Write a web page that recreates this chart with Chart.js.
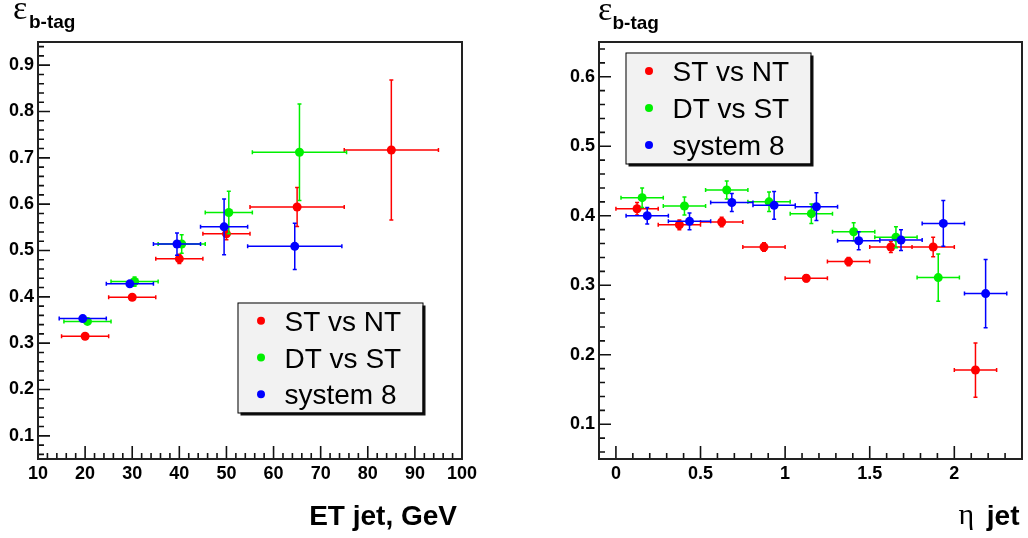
<!DOCTYPE html>
<html>
<head>
<meta charset="utf-8">
<script src="https://cdn.jsdelivr.net/npm/chart.js@4.4.1/dist/chart.umd.min.js"></script>
<style>
  html, body { margin: 0; padding: 0; background: #fff; }
  #wrap { position: relative; width: 1028px; height: 538px; }
  canvas { position: absolute; top: 0; }
  #etChart { left: 0; }
  #etaChart { left: 514px; }
</style>
</head>
<body>
<div id="wrap">
  <canvas id="etChart" width="514" height="538"></canvas>
  <canvas id="etaChart" width="514" height="538"></canvas>
</div>
<script>
const seriesNames = ['ST vs NT', 'DT vs ST', 'system 8'];
const seriesColors = ['#ff0000', '#00f000', '#0000ff'];

// efficiency vs ET jet (GeV)
const etStX = [20, 30, 40, 50, 65, 85];
const etStY = [0.315, 0.399, 0.482, 0.536, 0.594, 0.717];
const etStXErr = [5, 5, 5, 5, 10, 10];
const etStYErr = [0.005, 0.005, 0.01, 0.013, 0.042, 0.151];

const etDtX = [20.5, 30.5, 40.5, 50.5, 65.5];
const etDtY = [0.347, 0.433, 0.514, 0.582, 0.712];
const etDtXErr = [5, 5, 5, 5, 10];
const etDtYErr = [0.006, 0.01, 0.02, 0.046, 0.104];

const etS8X = [19.5, 29.5, 39.5, 49.5, 64.5];
const etS8Y = [0.353, 0.428, 0.514, 0.551, 0.509];
const etS8XErr = [5, 5, 5, 5, 10];
const etS8YErr = [0.005, 0.006, 0.024, 0.06, 0.05];

// efficiency vs eta jet
const etaStX = [0.125, 0.375, 0.625, 0.875, 1.125, 1.375, 1.625, 1.875, 2.125];
const etaStY = [0.410, 0.387, 0.391, 0.355, 0.310, 0.334, 0.355, 0.355, 0.178];
const etaStYErr = [0.009, 0.007, 0.007, 0.006, 0.005, 0.006, 0.008, 0.014, 0.039];

const etaDtX = [0.155, 0.405, 0.655, 0.905, 1.155, 1.405, 1.655, 1.905];
const etaDtY = [0.426, 0.414, 0.437, 0.420, 0.403, 0.377, 0.369, 0.311];
const etaDtYErr = [0.014, 0.013, 0.013, 0.014, 0.014, 0.013, 0.015, 0.034];

const etaS8X = [0.185, 0.435, 0.685, 0.935, 1.185, 1.435, 1.685, 1.935, 2.185];
const etaS8Y = [0.400, 0.392, 0.419, 0.415, 0.413, 0.364, 0.365, 0.389, 0.288];
const etaS8YErr = [0.012, 0.012, 0.013, 0.02, 0.02, 0.013, 0.015, 0.033, 0.049];

const etaHalfBin = 0.125;

const etTicks = [10, 20, 30, 40, 50, 60, 70, 80, 90, 100];
const etEffTicks = [0.1, 0.2, 0.3, 0.4, 0.5, 0.6, 0.7, 0.8, 0.9];
const etaTicks = [0, 0.5, 1, 1.5, 2];
const etaEffTicks = [0.1, 0.2, 0.3, 0.4, 0.5, 0.6];

const SANS = '"Liberation Sans", Arial, Helvetica, sans-serif';
const SERIF = '"Liberation Serif", "Times New Roman", serif';

function makeSet(i, xs, ys, xe, ye) {
  return {
    label: seriesNames[i],
    data: xs.map((x, k) => ({ x: x, y: ys[k] })),
    xErr: xe,
    yErr: ye,
    backgroundColor: seriesColors[i],
    borderWidth: 0,
    pointRadius: 4.5,
    order: 3 - i
  };
}

const errorBars = {
  id: 'errorBars',
  beforeDatasetDraw(chart, args) {
    const ds = chart.data.datasets[args.index];
    const xs = chart.scales.x, ys = chart.scales.y;
    const ctx = chart.ctx;
    ctx.save();
    ctx.strokeStyle = ds.backgroundColor;
    ctx.lineWidth = 1.5;
    ctx.beginPath();
    ds.data.forEach((p, k) => {
      const px = xs.getPixelForValue(p.x), py = ys.getPixelForValue(p.y);
      const xl = xs.getPixelForValue(p.x - ds.xErr[k]), xr = xs.getPixelForValue(p.x + ds.xErr[k]);
      const yt = ys.getPixelForValue(p.y + ds.yErr[k]), yb = ys.getPixelForValue(p.y - ds.yErr[k]);
      ctx.moveTo(xl, py); ctx.lineTo(xr, py);
      ctx.moveTo(px, yt); ctx.lineTo(px, yb);
      ctx.moveTo(xl, py - 2); ctx.lineTo(xl, py + 2);
      ctx.moveTo(xr, py - 2); ctx.lineTo(xr, py + 2);
      ctx.moveTo(px - 2, yt); ctx.lineTo(px + 2, yt);
      ctx.moveTo(px - 2, yb); ctx.lineTo(px + 2, yb);
    });
    ctx.stroke();
    ctx.restore();
  }
};

// ROOT-like frame with inward major/minor ticks
function frameTicks(xMinor, yMinor) {
  return {
    id: 'frameTicks',
    afterDraw(chart) {
      const ctx = chart.ctx;
      const a = chart.chartArea;
      const xs = chart.scales.x, ys = chart.scales.y;
      ctx.save();
      ctx.strokeStyle = '#111';
      ctx.lineWidth = 1.6;
      const isMajor = (scale, v, step) => scale.ticks.some(t => Math.abs(t.value - v) < step / 10);
      ctx.beginPath();
      for (let n = Math.ceil(xs.min / xMinor - 1e-6); n * xMinor <= xs.max + 1e-6; n++) {
        const v = n * xMinor;
        const len = isMajor(xs, v, xMinor) ? 13 : 6;
        const p = xs.getPixelForValue(v);
        ctx.moveTo(p, a.bottom);
        ctx.lineTo(p, a.bottom - len);
      }
      for (let n = Math.ceil(ys.min / yMinor - 1e-6); n * yMinor <= ys.max + 1e-6; n++) {
        const v = n * yMinor;
        const len = isMajor(ys, v, yMinor) ? 12 : 6;
        const p = ys.getPixelForValue(v);
        ctx.moveTo(a.left, p);
        ctx.lineTo(a.left + len, p);
      }
      ctx.stroke();
      ctx.lineWidth = 2;
      ctx.strokeStyle = '#222';
      ctx.strokeRect(a.left, a.top, a.right - a.left, a.bottom - a.top);
      ctx.restore();
    }
  };
}

function boxLegend(box) {
  return {
    id: 'boxLegend',
    afterDraw(chart) {
      const ctx = chart.ctx;
      ctx.save();
      ctx.fillStyle = '#111';
      ctx.fillRect(box.x + 3, box.y + 3, box.w, box.h);
      ctx.fillStyle = '#f2f2f2';
      ctx.fillRect(box.x, box.y, box.w, box.h);
      ctx.strokeStyle = '#000';
      ctx.lineWidth = 1;
      ctx.strokeRect(box.x + 0.5, box.y + 0.5, box.w, box.h);
      const sets = chart.data.datasets;
      const rowH = box.h / sets.length;
      ctx.font = '28px ' + SANS;
      sets.forEach((ds, i) => {
        const cy = box.y + rowH * (i + 0.5);
        ctx.fillStyle = ds.backgroundColor;
        ctx.beginPath();
        ctx.arc(box.x + 23.5, cy, 4, 0, Math.PI * 2);
        ctx.fill();
        ctx.fillStyle = '#000';
        ctx.fillText(ds.label, box.x + 47, cy + 10);
      });
      ctx.restore();
    }
  };
}

function axisTexts(parts) {
  return {
    id: 'axisTexts',
    afterDraw(chart) {
      const ctx = chart.ctx;
      ctx.save();
      ctx.fillStyle = '#000';
      parts.forEach(p => {
        ctx.font = p.font;
        ctx.textAlign = p.align || 'left';
        ctx.fillText(p.text, p.x, p.y);
      });
      ctx.restore();
    }
  };
}

function axes(xMin, xMax, xTicks, yMin, yMax, yTicks, yWidth) {
  const tickFont = { family: SANS, size: 18, weight: 'bold' };
  const fmt = v => String(+Number(v).toFixed(2));
  return {
    x: {
      type: 'linear', min: xMin, max: xMax,
      afterBuildTicks: s => { s.ticks = xTicks.map(v => ({ value: v })); },
      afterFit: s => { s.height = 79; },
      grid: { display: false, drawTicks: false },
      border: { display: false },
      ticks: { autoSkip: false, maxRotation: 0, padding: 4, font: tickFont, color: '#000', callback: fmt }
    },
    y: {
      type: 'linear', min: yMin, max: yMax,
      afterBuildTicks: s => { s.ticks = yTicks.map(v => ({ value: v })); },
      afterFit: s => { s.width = yWidth; },
      grid: { display: false, drawTicks: false },
      border: { display: false },
      ticks: { autoSkip: false, padding: 4, font: tickFont, color: '#000', callback: fmt }
    }
  };
}

const common = {
  responsive: false,
  animation: false,
  events: [],
  plugins: { legend: { display: false }, tooltip: { enabled: false } }
};

new Chart(document.getElementById('etChart').getContext('2d'), {
  type: 'scatter',
  data: {
    datasets: [
      makeSet(0, etStX, etStY, etStXErr, etStYErr),
      makeSet(1, etDtX, etDtY, etDtXErr, etDtYErr),
      makeSet(2, etS8X, etS8Y, etS8XErr, etS8YErr)
    ]
  },
  options: Object.assign({}, common, {
    layout: { padding: { top: 42, right: 52, left: 0, bottom: 0 } },
    scales: axes(10, 100, etTicks, 0.05, 0.95, etEffTicks, 38)
  }),
  plugins: [
    errorBars,
    frameTicks(2, 0.02),
    boxLegend({ x: 237.5, y: 302.5, w: 185, h: 110 }),
    axisTexts([
      { text: 'ε', font: '34px ' + SERIF, x: 13, y: 18.5 },
      { text: 'b-tag', font: 'bold 19px ' + SANS, x: 29, y: 27.5 },
      { text: 'ET jet, GeV', font: 'bold 28px ' + SANS, x: 457, y: 525, align: 'right' }
    ])
  ]
});

const etaXErr = x => x.map(() => etaHalfBin);

new Chart(document.getElementById('etaChart').getContext('2d'), {
  type: 'scatter',
  data: {
    datasets: [
      makeSet(0, etaStX, etaStY, etaXErr(etaStX), etaStYErr),
      makeSet(1, etaDtX, etaDtY, etaXErr(etaDtX), etaDtYErr),
      makeSet(2, etaS8X, etaS8Y, etaXErr(etaS8X), etaS8YErr)
    ]
  },
  options: Object.assign({}, common, {
    layout: { padding: { top: 42, right: 6, left: 0, bottom: 0 } },
    scales: axes(-0.1, 2.4, etaTicks, 0.05, 0.65, etaEffTicks, 85)
  }),
  plugins: [
    errorBars,
    frameTicks(0.1, 0.02),
    boxLegend({ x: 111.5, y: 52.5, w: 185, h: 111 }),
    axisTexts([
      { text: 'ε', font: '34px ' + SERIF, x: 84, y: 19.5 },
      { text: 'b-tag', font: 'bold 19px ' + SANS, x: 98.5, y: 29 },
      { text: 'η', font: '30px ' + SERIF, x: 444.5, y: 524 },
      { text: 'jet', font: 'bold 28px ' + SANS, x: 505.5, y: 525, align: 'right' }
    ])
  ]
});
</script>
</body>
</html>
